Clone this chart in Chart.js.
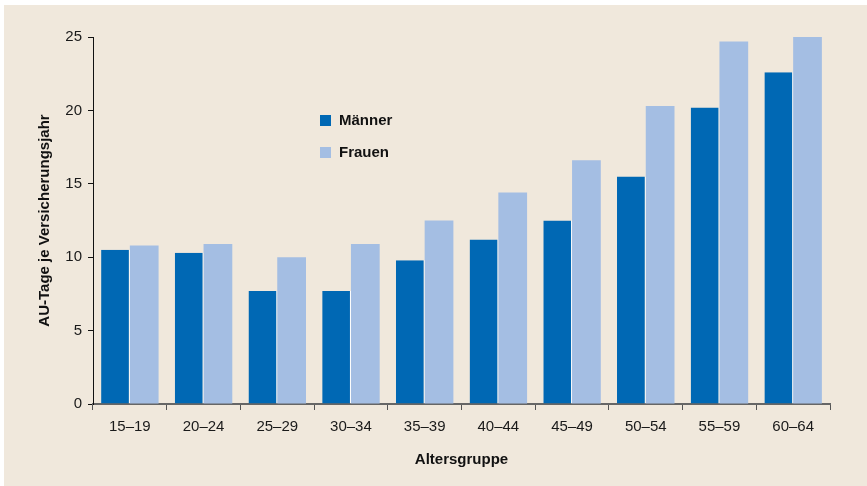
<!DOCTYPE html>
<html>
<head>
<meta charset="utf-8">
<script src="https://cdn.jsdelivr.net/npm/chart.js@4"></script>
<style>
  html, body { margin: 0; padding: 0; background: #ffffff; }
  #wrap { position: absolute; left: 4px; top: 5px; width: 863px; height: 481px; background: #F0E8DC; }
  #c { position: absolute; left: 0; top: 0; }
  #legend { position: absolute; left: 316px; top: 104px; font-family: "Liberation Sans", Arial, sans-serif; font-weight: bold; font-size: 15px; color: #111; }
  .item { position: relative; height: 32px; }
  .sw { position: absolute; left: 0; top: 6px; width: 11px; height: 11px; }
  .lbl { position: absolute; left: 19px; top: 2px; line-height: 18px; }
</style>
</head>
<body>
<div id="wrap">
  <canvas id="c" width="863" height="481"></canvas>
  <div id="legend"></div>
</div>
<script>
const categories = ["15–19", "20–24", "25–29", "30–34", "35–39", "40–44", "45–49", "50–54", "55–59", "60–64"];
const maenner = [10.5, 10.3, 7.7, 7.7, 9.8, 11.2, 12.5, 15.5, 20.2, 22.6];
const frauen  = [10.8, 10.9, 10.0, 10.9, 12.5, 14.4, 16.6, 20.3, 24.7, 25.1];
const seriesNames = ["Männer", "Frauen"];
const seriesColors = ["#0068B4", "#A4BEE3"];
const yTicks = [0, 5, 10, 15, 20, 25];

const font = "'Liberation Sans', Arial, sans-serif";

const chart = new Chart(document.getElementById('c'), {
  type: 'bar',
  data: {
    labels: categories,
    datasets: [
      { label: seriesNames[0], data: maenner, backgroundColor: seriesColors[0],
        borderColor: '#ffffff', borderWidth: { top: 0, left: 0, bottom: 0, right: 1 }, borderSkipped: false,
        categoryPercentage: 0.78, barPercentage: 1.0 },
      { label: seriesNames[1], data: frauen, backgroundColor: seriesColors[1],
        borderWidth: 0, categoryPercentage: 0.78, barPercentage: 1.0 }
    ]
  },
  options: {
    responsive: false,
    animation: false,
    layout: { padding: { left: 32, top: 32, right: 37, bottom: 17 } },
    plugins: { legend: { display: false }, tooltip: { enabled: false } },
    scales: {
      x: {
        grid: { drawOnChartArea: false, color: '#555', tickLength: 6, lineWidth: 1 },
        border: { color: '#666', width: 2 },
        ticks: { color: '#1a1a1a', font: { family: font, size: 15 }, padding: 8 },
        title: { display: true, text: 'Altersgruppe', color: '#111', font: { family: font, size: 15, weight: 'bold' }, padding: 0 },
        afterFit: s => { s.height = 65; }
      },
      y: {
        min: 0, max: 25,
        afterBuildTicks: s => { s.ticks = yTicks.map(v => ({ value: v })); },
        grid: { drawOnChartArea: false, color: '#111', tickLength: 5 },
        border: { color: '#111', width: 1 },
        ticks: { color: '#1a1a1a', font: { family: font, size: 15 }, padding: 6 },
        title: { display: true, text: 'AU-Tage je Versicherungsjahr', color: '#111', font: { family: font, size: 15, weight: 'bold' }, padding: 0 },
        afterFit: s => { s.width = 57; }
      }
    }
  }
});

const leg = document.getElementById('legend');
chart.data.datasets.forEach(ds => {
  const it = document.createElement('div'); it.className = 'item';
  const sw = document.createElement('div'); sw.className = 'sw'; sw.style.background = ds.backgroundColor;
  const lb = document.createElement('div'); lb.className = 'lbl'; lb.textContent = ds.label;
  it.appendChild(sw); it.appendChild(lb); leg.appendChild(it);
});
</script>
</body>
</html>
